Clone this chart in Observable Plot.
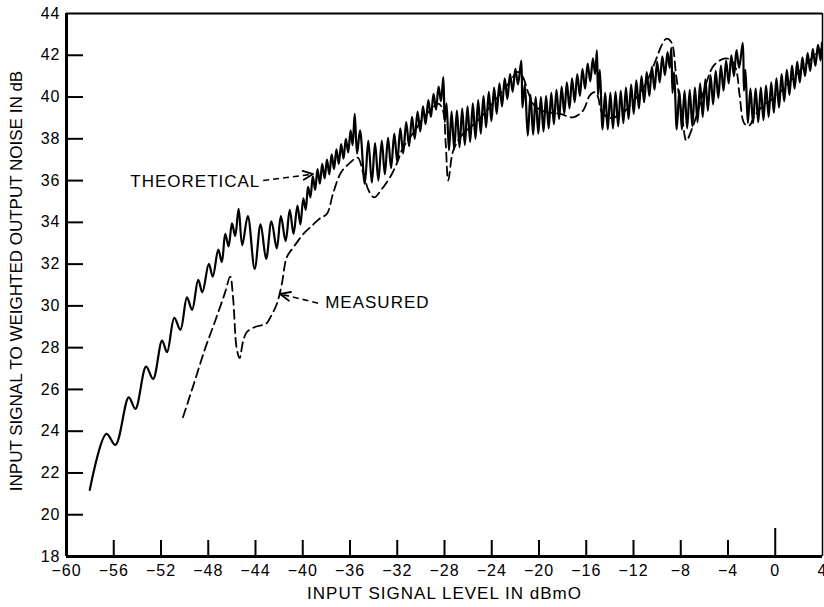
<!DOCTYPE html>
<html><head><meta charset="utf-8">
<script src="https://cdn.jsdelivr.net/npm/d3@7"></script>
<script src="https://cdn.jsdelivr.net/npm/@observablehq/plot@0.6"></script>
<style>
html,body{margin:0;padding:0;background:#fff;}
#chart{width:824px;height:607px;overflow:hidden;}
</style></head><body><div id="chart"></div>
<script>
// ---- data (x: input level dBm0, y: S/N dB) ----
const theoretical = [
[-58.03,21.19],[-56.62,23.87],[-55.86,23.34],[-54.73,25.62],[-54.17,25.07],[-53.26,27.09],[-52.67,26.5],[-51.91,28.34],[-51.49,27.78],[-50.87,29.43],[-50.36,28.85],[-49.8,30.41],[-49.37,29.81],[-48.85,31.25],[-48.5,30.65],[-47.95,32.01],[-47.62,31.4],[-47.15,32.7],[-46.85,32.1],[-46.56,33.45],[-46.28,32.85],[-45.99,33.95],[-45.72,33.35],[-45.43,34.65],[-45.12,32.9],[-44.65,34.3],[-44.07,31.77],[-43.57,33.9],[-43.1,32.25],[-42.65,34.05],[-42.2,32.75],[-41.85,34.3],[-41.45,33.1],[-41.1,34.6],[-40.78,33.45],[-40.45,34.8],[-40.2,33.9],[-39.95,35.15],[-39.75,34.6],[-39.55,35.7],[-39.35,35.2],[-39.15,36.2],[-38.95,35.55],[-38.75,36.55],[-38.55,35.85],[-38.35,36.8],[-38.15,36.1],[-37.95,37.0],[-37.75,36.3],[-37.55,37.25],[-37.35,36.55],[-37.15,37.5],[-36.95,36.8],[-36.75,37.75],[-36.55,37.05],[-36.35,38.0],[-36.15,37.35],[-35.95,38.4],[-35.78,37.7],[-35.6,39.2],
[-35.4,37.3],[-35.15,38.4],[-34.75,35.85],[-34.45,37.9],[-34.15,35.9],[-33.88,37.8],[-33.6,36.0],[-33.31,37.9],[-33.05,36.3],[-32.78,38.05],[-32.52,36.6],[-32.25,38.25],[-32.0,36.9],[-31.74,38.5],[-31.5,37.3],[-31.24,38.8],[-31.0,37.65],[-30.75,39.05],[-30.52,38.0],[-30.28,39.3],[-30.05,38.35],[-29.82,39.55],[-29.6,38.7],[-29.37,39.85],[-29.15,39.05],[-28.93,40.15],[-28.72,39.4],[-28.5,40.5],[-28.3,39.8],[-28.1,40.95],
[-27.98,38.8],[-27.83,39.7],[-27.62,37.45],[-27.4,39.3],[-27.18,37.5],[-26.95,39.35],[-26.73,37.6],[-26.5,39.45],[-26.28,37.7],[-26.05,39.55],[-25.83,37.85],[-25.6,39.7],[-25.38,38.0],[-25.15,39.85],[-24.93,38.25],[-24.7,40.05],[-24.48,38.55],[-24.25,40.25],[-24.03,38.85],[-23.8,40.45],[-23.58,39.2],[-23.35,40.65],[-23.13,39.55],[-22.9,40.9],[-22.68,39.9],[-22.45,41.1],[-22.23,40.25],[-22.0,41.35],[-21.78,40.6],[-21.5,41.75],
[-21.4,39.5],[-21.2,40.6],[-20.95,38.15],[-20.72,40.1],[-20.5,38.2],[-20.28,40.0],[-20.06,38.25],[-19.84,40.0],[-19.62,38.35],[-19.4,40.05],[-19.18,38.5],[-18.96,40.2],[-18.74,38.7],[-18.52,40.35],[-18.3,38.95],[-18.08,40.5],[-17.86,39.2],[-17.64,40.7],[-17.42,39.45],[-17.2,40.9],[-16.98,39.75],[-16.76,41.1],[-16.54,40.05],[-16.32,41.35],[-16.1,40.4],[-15.88,41.6],[-15.66,40.75],[-15.44,41.85],[-15.25,41.1],[-15.1,42.23],
[-15.0,40.1],[-14.85,41.3],[-14.62,38.45],[-14.4,40.2],[-14.18,38.45],[-13.96,40.2],[-13.74,38.5],[-13.52,40.25],[-13.3,38.6],[-13.08,40.3],[-12.86,38.75],[-12.64,40.45],[-12.42,38.95],[-12.2,40.6],[-11.98,39.2],[-11.76,40.8],[-11.54,39.45],[-11.32,41.0],[-11.1,39.75],[-10.88,41.2],[-10.66,40.05],[-10.44,41.45],[-10.22,40.35],[-10.0,41.7],[-9.78,40.7],[-9.56,41.95],[-9.34,41.05],[-9.12,42.15],[-8.94,41.4],[-8.8,42.35],
[-8.7,40.2],[-8.56,41.2],[-8.34,38.45],[-8.12,40.3],[-7.9,38.45],[-7.68,40.3],[-7.46,38.5],[-7.24,40.35],[-7.02,38.6],[-6.8,40.45],[-6.58,38.8],[-6.36,40.65],[-6.14,39.05],[-5.92,40.85],[-5.7,39.35],[-5.48,41.05],[-5.26,39.65],[-5.04,41.25],[-4.82,39.95],[-4.6,41.5],[-4.38,40.3],[-4.16,41.75],[-3.94,40.65],[-3.72,42.0],[-3.5,41.0],[-3.28,42.25],[-3.06,41.4],[-2.75,42.6],
[-2.65,40.3],[-2.52,41.3],[-2.32,38.75],[-2.1,40.4],[-1.88,38.75],[-1.66,40.4],[-1.44,38.8],[-1.22,40.45],[-1.0,38.9],[-0.78,40.55],[-0.56,39.05],[-0.34,40.7],[-0.12,39.25],[0.1,40.9],[0.32,39.5],[0.54,41.1],[0.76,39.8],[0.98,41.3],[1.2,40.1],[1.42,41.5],[1.64,40.4],[1.86,41.7],[2.08,40.7],[2.3,41.9],[2.52,41.0],[2.74,42.1],[2.96,41.25],[3.18,42.3],[3.4,41.5],[3.62,42.5],[3.84,41.75],[3.95,42.6]
];
const measured = [
[-50.14,24.67],[-49.2,26.3],[-48.3,27.9],[-47.4,29.3],[-46.6,30.6],[-46.14,31.4],[-45.9,30.4],[-45.6,28.0],[-45.35,27.5],[-45.05,28.3],[-44.73,28.75],[-44.0,29.0],[-43.1,29.15],[-42.7,29.5],[-42.19,30.1],[-41.77,31.05],[-41.35,32.33],[-40.78,32.81],[-39.94,33.45],[-39.2,33.85],[-38.53,34.2],[-37.96,34.4],[-37.4,35.45],[-36.75,36.4],[-36.0,36.85],[-35.35,37.1],[-34.9,36.4],[-34.4,35.5],[-33.95,35.2],[-33.3,35.6],[-32.61,36.16],[-32.05,36.8],[-31.49,37.6],[-30.5,38.4],[-29.8,39.0],[-29.23,39.35],[-28.53,39.68],[-28.15,39.4],[-27.9,37.8],[-27.68,36.0],[-27.26,37.44],[-26.5,38.2],[-25.5,38.7],[-24.5,39.3],[-23.5,40.0],[-22.5,40.7],[-21.8,41.2],[-21.4,41.0],[-20.9,40.2],[-20.4,39.6],[-19.5,39.3],[-18.24,39.2],[-17.12,39.03],[-16.27,39.35],[-15.71,40.07],[-15.28,40.23],[-15.0,40.0],[-14.7,39.3],[-14.0,39.0],[-13.0,39.2],[-12.0,39.8],[-11.0,40.6],[-10.07,41.83],[-9.6,42.5],[-9.22,42.79],[-8.8,42.63],[-8.38,41.0],[-7.82,38.8],[-7.53,37.92],[-6.97,38.6],[-6.41,39.6],[-5.7,40.9],[-5.28,41.45],[-4.7,41.75],[-4.2,41.85],[-3.7,41.75],[-3.3,41.3],[-3.02,40.1],[-2.6,38.72],[-2.18,38.64],[-1.76,39.1],[-1.0,39.6],[0.0,40.0],[1.0,40.6],[2.0,41.2],[3.0,41.8],[3.9,42.3]
];
const xDomain = [-60, 4];
const yDomain = [18, 44];
const xTickLabels = [-60,-56,-52,-48,-44,-40,-36,-32,-28,-24,-20,-16,-12,-8,-4,0,4];
const yTickLabels = [18,20,22,24,26,28,30,32,34,36,38,40,42,44];
const xTickMarks = [-56,-52,-48,-44,-40,-36,-32,-28,-24,-20,-16,-12,-8,-4,0];
const yTickMarks = [20,22,24,26,28,30,32,34,36,38,40,42];
const xTitle = "INPUT SIGNAL LEVEL IN dBmO";
const yTitle = "INPUT SIGNAL TO WEIGHTED OUTPUT NOISE IN dB";
const annotations = [
  {label: "THEORETICAL", x: -54.6, y: 35.95},
  {label: "MEASURED", x: -38.1, y: 30.18}
];
const pointers = [
  {id: "t", x1: -43.35, y1: 36.0, x2: -39.12, y2: 36.31},
  {id: "m", x1: -38.7, y1: 30.13, x2: -41.91, y2: 30.57}
];

// ---- layout ----
const W = 824, H = 607, mL = 66, mR = 2, mT = 13, mB = 51;
const kx = (W - mL - mR) / (xDomain[1] - xDomain[0]);
const ky = (H - mT - mB) / (yDomain[1] - yDomain[0]);
const tickLenX = 16 / ky, tickLenZero = 28 / ky, tickLenY = 17 / kx;

function headOf(p, len = 11, ang = 24) {
  const dx = (p.x2 - p.x1) * kx, dy = -(p.y2 - p.y1) * ky;
  const a = Math.atan2(dy, dx);
  const out = [];
  for (const s of [-1, 1]) {
    const b = a + Math.PI + s * ang * Math.PI / 180;
    out.push({id: p.id, x: p.x2 + len * Math.cos(b) / kx, y: p.y2 - len * Math.sin(b) / ky});
  }
  return [out[0], {id: p.id, x: p.x2, y: p.y2}, out[1]];
}
const heads = pointers.flatMap(p => headOf(p));

const chart = Plot.plot({
  width: W, height: H,
  marginLeft: mL, marginRight: mR, marginTop: mT, marginBottom: mB,
  style: {fontFamily: "'Liberation Sans', Arial, Helvetica, sans-serif", fontSize: "16px", letterSpacing: "1px", color: "#000", background: "#fff"},
  x: {domain: xDomain, ticks: xTickLabels, tickSize: 0, tickPadding: 8, label: null},
  y: {domain: yDomain, ticks: yTickLabels, tickSize: 0, tickPadding: 6, label: null},
  marks: [
    Plot.ruleX(xTickMarks, {x: d => d, y1: yDomain[0], y2: d => d === 0 ? yDomain[0] + tickLenZero : yDomain[0] + tickLenX, strokeWidth: 2}),
    Plot.ruleY(yTickMarks, {y: d => d, x1: xDomain[0], x2: xDomain[0] + tickLenY, strokeWidth: 2}),
    Plot.ruleY([yDomain[1]], {strokeWidth: 2}),
    Plot.ruleX([xDomain[1]], {strokeWidth: 1.5}),
    Plot.ruleX([xDomain[0]], {strokeWidth: 3}),
    Plot.ruleY([yDomain[0]], {strokeWidth: 3}),
    Plot.line(theoretical, {x: d => d[0], y: d => d[1], curve: "catmull-rom", stroke: "#000", strokeWidth: 2.2}),
    Plot.line(measured, {x: d => d[0], y: d => d[1], curve: "catmull-rom", stroke: "#000", strokeWidth: 1.8, strokeDasharray: "9,5"}),
    Plot.link(pointers, {x1: "x1", y1: "y1", x2: "x2", y2: "y2", stroke: "#000", strokeWidth: 1.6, strokeDasharray: "6,4"}),
    Plot.line(heads, {x: "x", y: "y", z: "id", stroke: "#000", strokeWidth: 1.8}),
    Plot.text(annotations, {x: "x", y: "y", text: "label", textAnchor: "start", fontSize: 17, fill: "#000"}),
    Plot.text([xTitle], {text: d => d, frameAnchor: "bottom", textAnchor: "middle", dy: 42, fontSize: 17, fill: "#000"}),
    Plot.text([yTitle], {text: d => d, frameAnchor: "left", textAnchor: "middle", dx: -50, dy: -4, rotate: -90, fontSize: 17, fill: "#000"})
  ]
});
chart.querySelectorAll("text").forEach(t => { if (t.textContent === yTitle) t.style.letterSpacing = "0px"; });
document.getElementById("chart").appendChild(chart);
</script>
</body></html>
